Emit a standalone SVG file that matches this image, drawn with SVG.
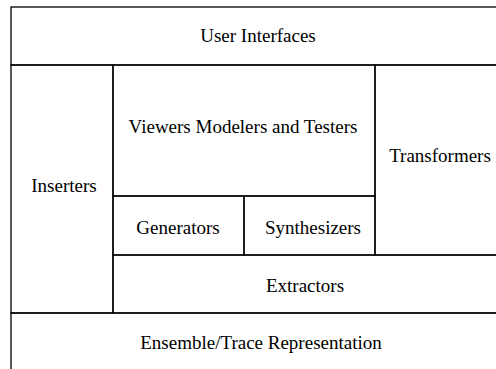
<svg xmlns="http://www.w3.org/2000/svg" width="496" height="369" viewBox="0 0 496 369">
<style>
rect{fill:none;stroke:#000;stroke-width:1.3}
text{font-family:"Liberation Serif","Times New Roman",serif;font-size:19px;fill:#000;text-anchor:middle}
</style>
<rect x="0" y="0" width="496" height="369" style="fill:#fff;stroke:none"/>
<g id="user-interfaces"><rect x="11" y="7" width="500" height="58"/><text x="258" y="42">User Interfaces</text></g>
<g id="inserters"><rect x="11" y="65" width="102" height="248"/><text x="64" y="192">Inserters</text></g>
<g id="viewers"><rect x="113" y="65" width="262" height="131"/><text x="243" y="133">Viewers Modelers and Testers</text></g>
<g id="transformers"><rect x="375" y="65" width="130" height="190"/><text x="440" y="162">Transformers</text></g>
<g id="generators"><rect x="113" y="196" width="131" height="59"/><text x="178" y="234">Generators</text></g>
<g id="synthesizers"><rect x="244" y="196" width="131" height="59"/><text x="313" y="234">Synthesizers</text></g>
<g id="extractors"><rect x="113" y="255" width="400" height="58"/><text x="305" y="292">Extractors</text></g>
<g id="ensemble"><rect x="11" y="313" width="500" height="70"/><text x="261" y="349">Ensemble/Trace Representation</text></g>
<g id="connectors"></g>
</svg>
